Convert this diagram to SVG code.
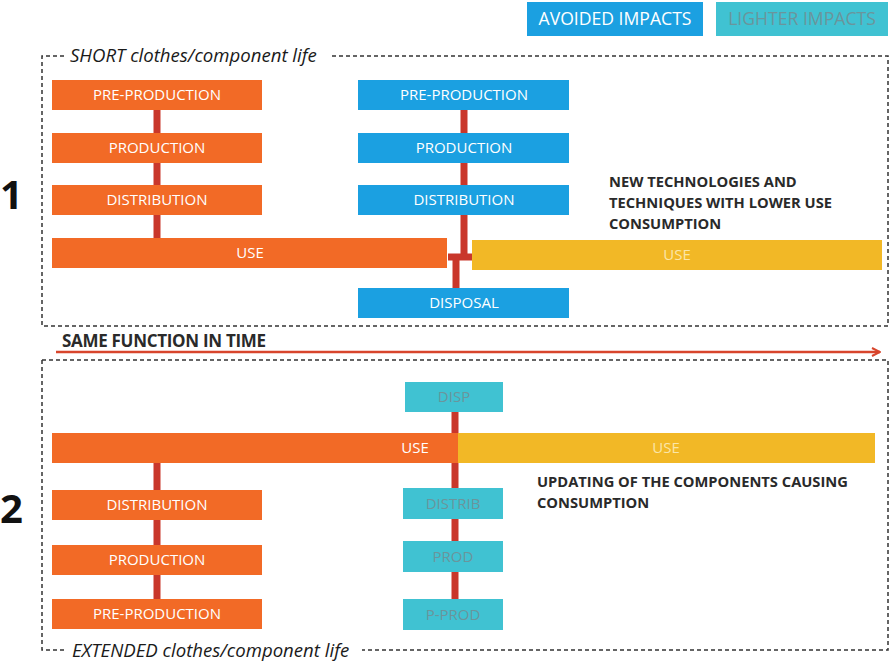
<svg xmlns="http://www.w3.org/2000/svg" width="896" height="667" viewBox="0 0 896 667">
<style>
.org{fill:#f26a26}
.blu{fill:#1ba0e1}
.tea{fill:#40c2d2}
.yel{fill:#f2b826}
.lbl{font-family:"Open Sans","Liberation Sans",sans-serif;font-size:15px;fill:#ffffff;text-anchor:middle}
.lbl2{font-family:"Open Sans","Liberation Sans",sans-serif;font-size:15px;fill:#6a959c;text-anchor:middle}
.ylbl{font-family:"Open Sans","Liberation Sans",sans-serif;font-size:15px;fill:#fbe6a8;text-anchor:middle}
.note{font-family:"Open Sans","Liberation Sans",sans-serif;font-size:14.7px;font-weight:bold;fill:#2a2a2a}
.ttl{font-family:"Open Sans","Liberation Sans",sans-serif;font-size:18.6px;font-style:italic;fill:#1a1a1a}
.num{font-family:"Open Sans","Liberation Sans",sans-serif;font-size:40px;font-weight:bold;fill:#111}
.dash{fill:none;stroke:#333;stroke-width:1.5;stroke-dasharray:4 3}
.conn{stroke:#c9372b;stroke-width:7;fill:none}
</style>
<defs>
<marker id="arr" markerWidth="10" markerHeight="10" refX="9" refY="5" orient="auto" markerUnits="userSpaceOnUse">
<path d="M1,1 L9,5 L1,9" fill="none" stroke="#d8452c" stroke-width="2"/>
</marker>
</defs>

<g id="legend">
<g id="legend-avoided"><rect x="527" y="2" width="176" height="34" class="blu"/><text x="615" y="25" class="lbl" style="font-size:17.6px">AVOIDED IMPACTS</text></g>
<g id="legend-lighter"><rect x="716" y="2" width="172" height="34" class="tea"/><text x="802" y="25" class="lbl2" style="font-size:17.6px">LIGHTER IMPACTS</text></g>
</g>

<g id="frames">
<path class="dash" d="M64,56 H42 V326 H888 V56 H330"/>
<text x="70" y="62" class="ttl">SHORT clothes/component life</text>
<path class="dash" d="M42,360 H888 V650 H362 M64,650 H42 V360"/>
<text x="72" y="657" class="ttl">EXTENDED clothes/component life</text>
<text x="0" y="209" class="num">1</text>
<text x="0" y="523" class="num">2</text>
</g>

<g id="connectors">
<line class="conn" x1="157" y1="110" x2="157" y2="238"/>
<line class="conn" x1="464" y1="110" x2="464" y2="258"/>
<line class="conn" x1="448" y1="257" x2="472" y2="257"/>
<line class="conn" x1="456" y1="257" x2="456" y2="288"/>
<line class="conn" x1="157" y1="463" x2="157" y2="600"/>
<line class="conn" x1="455" y1="412" x2="455" y2="600"/>
<line x1="56" y1="352" x2="880" y2="352" stroke="#d8452c" stroke-width="2.5" marker-end="url(#arr)"/>
<text x="62" y="347" class="note" style="font-size:17px;letter-spacing:-0.3px">SAME FUNCTION IN TIME</text>
</g>

<g id="s1-o-pre"><rect x="52" y="80" width="210" height="30" class="org"/><text x="157" y="100" class="lbl">PRE-PRODUCTION</text></g>
<g id="s1-o-prod"><rect x="52" y="133" width="210" height="30" class="org"/><text x="157" y="153" class="lbl">PRODUCTION</text></g>
<g id="s1-o-dist"><rect x="52" y="185" width="210" height="30" class="org"/><text x="157" y="205" class="lbl">DISTRIBUTION</text></g>
<g id="s1-o-use"><rect x="52" y="238" width="395" height="30" class="org"/><text x="250" y="258" class="lbl">USE</text></g>

<g id="s1-b-pre"><rect x="358" y="80" width="211" height="30" class="blu"/><text x="464" y="100" class="lbl">PRE-PRODUCTION</text></g>
<g id="s1-b-prod"><rect x="358" y="133" width="211" height="30" class="blu"/><text x="464" y="153" class="lbl">PRODUCTION</text></g>
<g id="s1-b-dist"><rect x="358" y="185" width="211" height="30" class="blu"/><text x="464" y="205" class="lbl">DISTRIBUTION</text></g>
<g id="s1-b-disp"><rect x="358" y="288" width="211" height="30" class="blu"/><text x="464" y="308" class="lbl">DISPOSAL</text></g>
<g id="s1-y-use"><rect x="472" y="240" width="410" height="30" class="yel"/><text x="677" y="260" class="ylbl">USE</text></g>
<g id="s1-note"><text class="note"><tspan x="609" y="187">NEW TECHNOLOGIES AND</tspan><tspan x="609" y="208">TECHNIQUES WITH LOWER USE</tspan><tspan x="609" y="229">CONSUMPTION</tspan></text></g>

<g id="s2-t-disp"><rect x="405" y="382" width="98" height="30" class="tea"/><text x="454" y="402" class="lbl2">DISP</text></g>
<g id="s2-o-use"><rect x="52" y="433" width="406" height="30" class="org"/><text x="415" y="453" class="lbl">USE</text></g>
<g id="s2-y-use"><rect x="458" y="433" width="417" height="30" class="yel"/><text x="666" y="453" class="ylbl">USE</text></g>
<g id="s2-t-dist"><rect x="403" y="488" width="100" height="31" class="tea"/><text x="453" y="509" class="lbl2">DISTRIB</text></g>
<g id="s2-t-prod"><rect x="403" y="541" width="100" height="31" class="tea"/><text x="453" y="562" class="lbl2">PROD</text></g>
<g id="s2-t-pprod"><rect x="403" y="599" width="100" height="31" class="tea"/><text x="453" y="620" class="lbl2">P-PROD</text></g>
<g id="s2-o-dist"><rect x="52" y="490" width="210" height="30" class="org"/><text x="157" y="510" class="lbl">DISTRIBUTION</text></g>
<g id="s2-o-prod"><rect x="52" y="545" width="210" height="30" class="org"/><text x="157" y="565" class="lbl">PRODUCTION</text></g>
<g id="s2-o-pre"><rect x="52" y="599" width="210" height="30" class="org"/><text x="157" y="619" class="lbl">PRE-PRODUCTION</text></g>
<g id="s2-note"><text class="note"><tspan x="537" y="487">UPDATING OF THE COMPONENTS CAUSING</tspan><tspan x="537" y="508">CONSUMPTION</tspan></text></g>
</svg>
